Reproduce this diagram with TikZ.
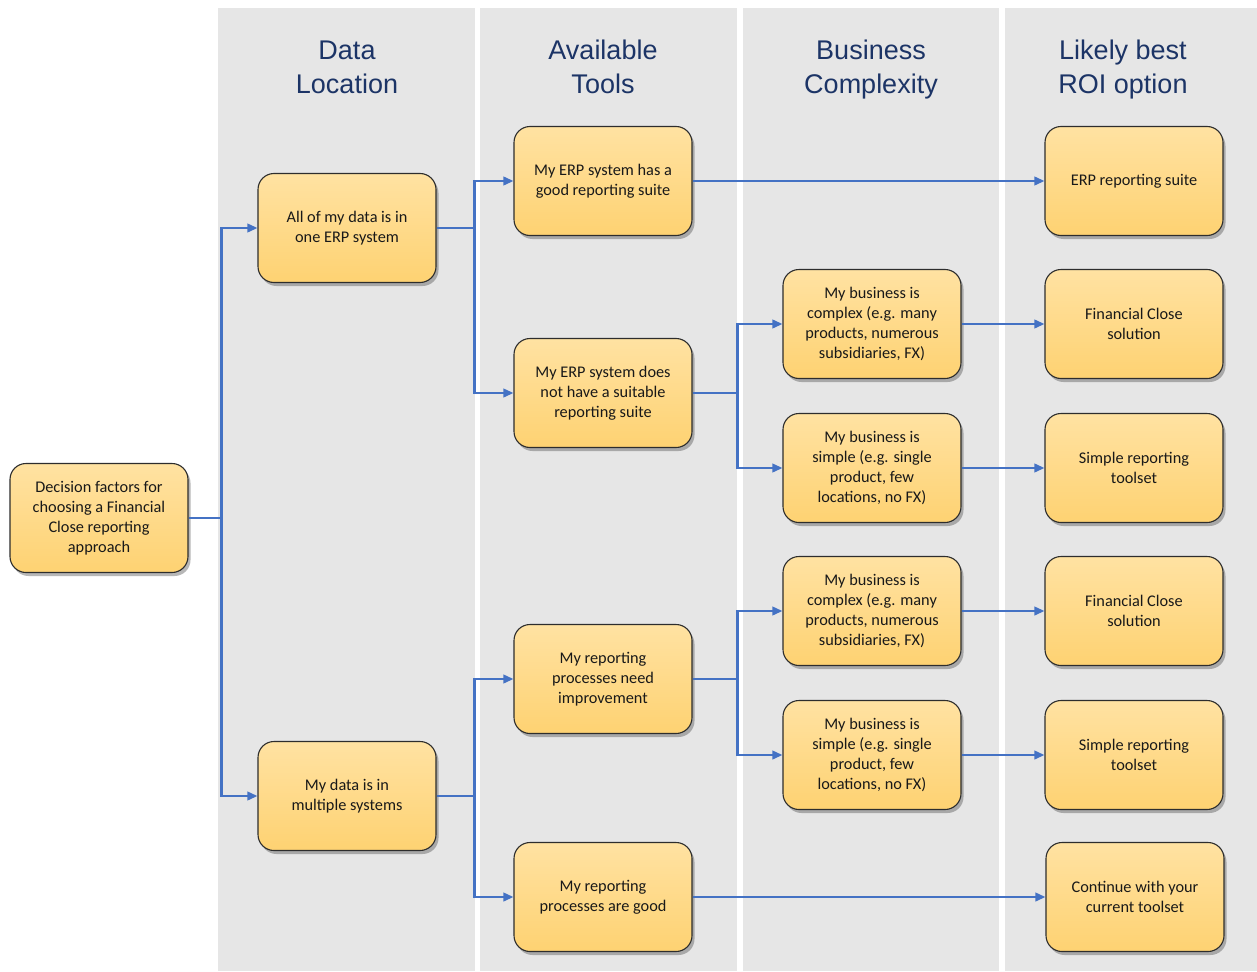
\documentclass[tikz,border=0pt]{standalone}
\usepackage{fontspec}
\setmainfont{Carlito}
\newfontfamily\hdrfont{Liberation Sans}
\usetikzlibrary{arrows.meta,shadows}
\definecolor{colgray}{RGB}{230,230,230}
\definecolor{hdrblue}{RGB}{28,52,102}
\definecolor{boxtop}{RGB}{255,226,162}
\definecolor{boxbot}{RGB}{254,210,114}
\definecolor{boxline}{RGB}{45,45,45}
\definecolor{connblue}{RGB}{68,114,196}
\definecolor{boxtext}{RGB}{25,25,25}
\tikzset{
  colbg/.style={fill=colgray,draw=none},
  hdr/.style={font=\hdrfont\fontsize{27}{34}\selectfont,text=hdrblue,align=center},
  box/.style={draw=boxline,line width=1.1pt,rounded corners=16pt,
    top color=boxtop,bottom color=boxbot,
    minimum width=178pt,minimum height=109pt,inner sep=0pt,
    align=center,text=boxtext,font=\fontsize{16.3}{20}\selectfont,
    drop shadow={shadow xshift=2.5pt,shadow yshift=-3.5pt,opacity=0.4,fill=black!70}},
  conn/.style={draw=connblue,line width=2.2pt,-{Triangle[length=10pt,width=8.5pt]}}
}
\begin{document}
\begin{tikzpicture}[x=1pt,y=-1pt]
\useasboundingbox (0,0) rectangle (1257,971);
\fill[white] (0,0) rectangle (1257,971);
% columns
\path[colbg] (218,8) rectangle (475,971);
\path[colbg] (480,8) rectangle (737,971);
\path[colbg] (743,8) rectangle (999,971);
\path[colbg] (1005,8) rectangle (1257,971);
% headers
\node[hdr] (h1) at (347,70) {Data\\Location\vphantom{y}};
\node[hdr] (h2) at (603,70) {Available\\Tools\vphantom{y}};
\node[hdr] (h3) at (871,70) {Business\\Complexity};
\node[hdr] (h4) at (1123,70) {Likely best\\ROI option};
% nodes
\node[box] (root) at (99,518) {Decision factors for\\choosing a Financial\\Close reporting\\approach};
\node[box] (A) at (347,228) {All of my data is in\\one ERP system};
\node[box] (B) at (347,796) {My data is in\\multiple systems};
\node[box] (C1) at (603,181) {My ERP system has a\\good reporting suite};
\node[box] (C2) at (603,393) {My ERP system does\\not have a suitable\\reporting suite};
\node[box] (C3) at (603,679) {My reporting\\processes need\\improvement};
\node[box] (C4) at (603,897) {My reporting\\processes are good};
\node[box] (D1) at (872,324) {My business is\\complex (e.g. many\\products, numerous\\subsidiaries, FX)};
\node[box] (D2) at (872,468) {My business is\\simple (e.g. single\\product, few\\locations, no FX)};
\node[box] (D3) at (872,611) {My business is\\complex (e.g. many\\products, numerous\\subsidiaries, FX)};
\node[box] (D4) at (872,755) {My business is\\simple (e.g. single\\product, few\\locations, no FX)};
\node[box] (E1) at (1134,181) {ERP reporting suite};
\node[box] (E2) at (1134,324) {Financial Close\\solution};
\node[box] (E3) at (1134,468) {Simple reporting\\toolset};
\node[box] (E4) at (1134,611) {Financial Close\\solution};
\node[box] (E5) at (1134,755) {Simple reporting\\toolset};
\node[box] (E6) at (1135,897) {Continue with your\\current toolset};
% connectors
\draw[conn] (root.east) -- ++(33,0) |- (A.west);
\draw[conn] (root.east) -- ++(33,0) |- (B.west);
\draw[conn] (A.east) -- ++(38,0) |- (C1.west);
\draw[conn] (A.east) -- ++(38,0) |- (C2.west);
\draw[conn] (B.east) -- ++(38,0) |- (C3.west);
\draw[conn] (B.east) -- ++(38,0) |- (C4.west);
\draw[conn] (C1.east) -- (E1.west);
\draw[conn] (C2.east) -- ++(45,0) |- (D1.west);
\draw[conn] (C2.east) -- ++(45,0) |- (D2.west);
\draw[conn] (C3.east) -- ++(45,0) |- (D3.west);
\draw[conn] (C3.east) -- ++(45,0) |- (D4.west);
\draw[conn] (C4.east) -- (E6.west);
\draw[conn] (D1.east) -- (E2.west);
\draw[conn] (D2.east) -- (E3.west);
\draw[conn] (D3.east) -- (E4.west);
\draw[conn] (D4.east) -- (E5.west);
\end{tikzpicture}
\end{document}
